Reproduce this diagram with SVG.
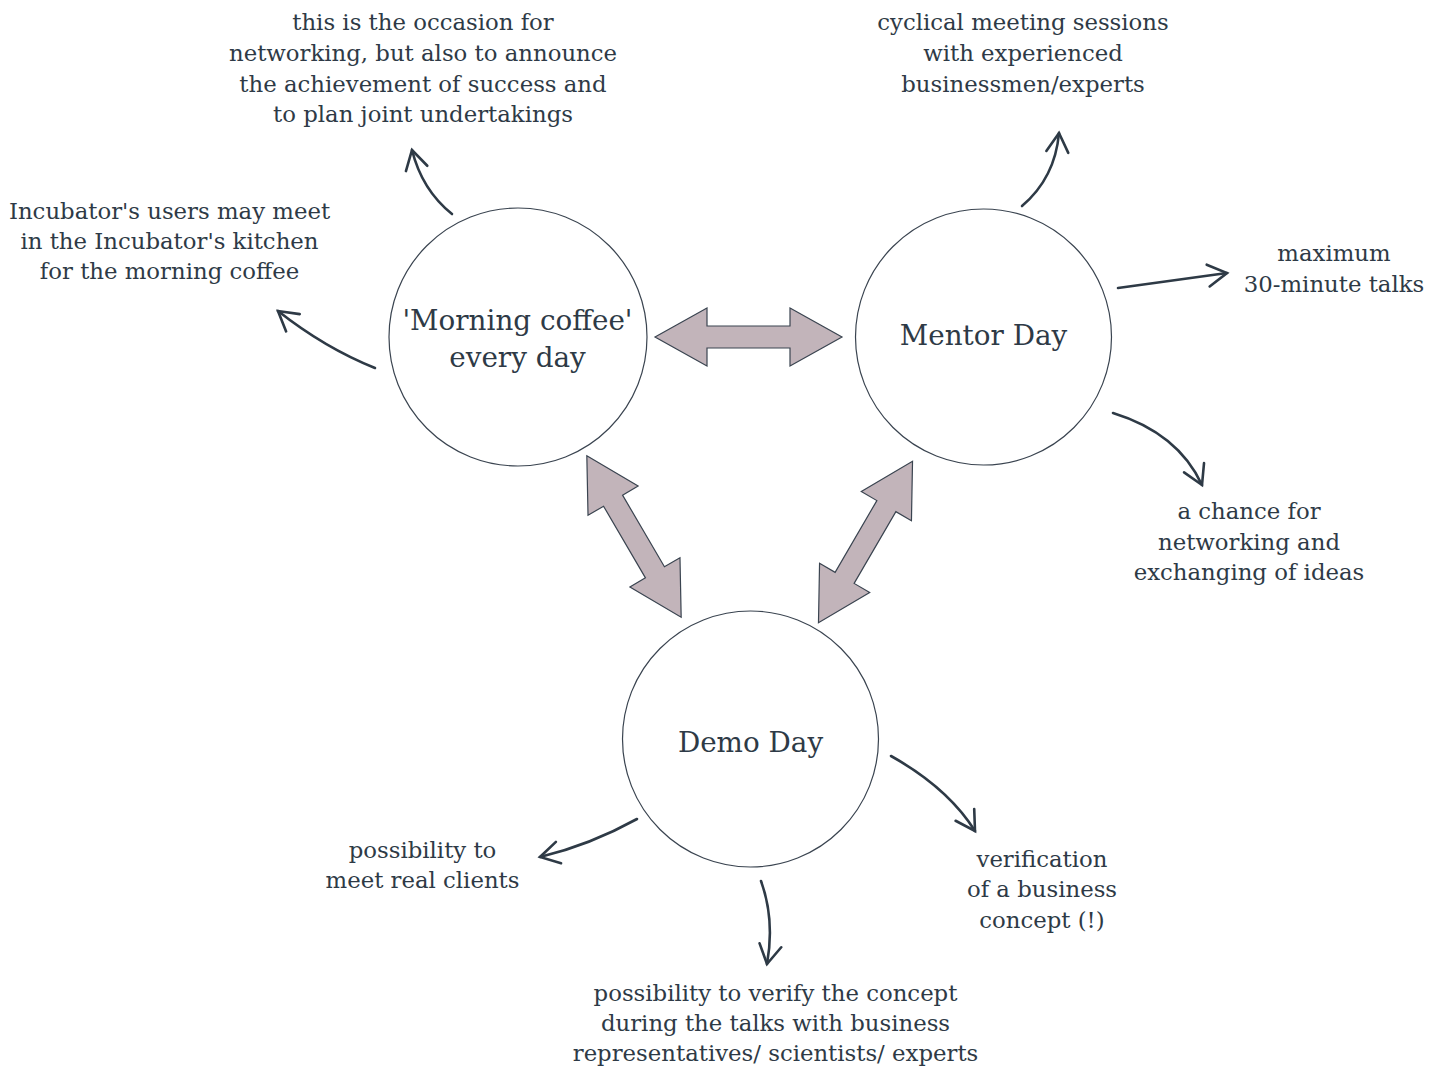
<svg xmlns="http://www.w3.org/2000/svg" width="1444" height="1066" viewBox="0 0 1444 1066">
<style>
.lbl{font-family:"DejaVu Serif","Liberation Serif",serif;font-size:22.8px;fill:#2e3a46;text-anchor:middle}
.nlbl{font-family:"DejaVu Serif","Liberation Serif",serif;font-size:27.8px;fill:#2e3a46;text-anchor:middle}
.node{fill:#fff;stroke:#3a4450;stroke-width:1.2}
.dbl{fill:#c2b4ba;stroke:#3a4450;stroke-width:1.2;stroke-linejoin:miter}
.conn{fill:none;stroke:#2e3a46;stroke-width:2.6;stroke-linecap:round}
</style>
<defs>
<marker id="ah" markerUnits="userSpaceOnUse" viewBox="-25 -15 30 30" markerWidth="30" markerHeight="30" refX="0" refY="0" orient="auto">
<path d="M-19,-11 L0,0 L-19,11" fill="none" stroke="#2e3a46" stroke-width="2.6" stroke-linecap="round" stroke-linejoin="miter"/>
</marker>
<polygon id="dblshape" points="-93.5,0 -41.5,-29 -41.5,-11 41.5,-11 41.5,-29 93.5,0 41.5,29 41.5,11 -41.5,11 -41.5,29"/>
</defs>
<rect width="1444" height="1066" fill="#fff"/>

<g id="connectors">
<use href="#dblshape" class="dbl" transform="translate(748.5,337)"/>
<use href="#dblshape" class="dbl" transform="translate(634,536.5) rotate(59.7)"/>
<use href="#dblshape" class="dbl" transform="translate(865.5,542) rotate(-59.8)"/>
<path class="conn" marker-end="url(#ah)" d="M452,214 Q422,190 412,150"/>
<path class="conn" marker-end="url(#ah)" d="M375,368 Q325,348 278,311"/>
<path class="conn" marker-end="url(#ah)" d="M1022,206 Q1055,178 1059,133"/>
<path class="conn" marker-end="url(#ah)" d="M1118,288 L1227,273"/>
<path class="conn" marker-end="url(#ah)" d="M1113,413 Q1178,433 1202,485"/>
<path class="conn" marker-end="url(#ah)" d="M891,756 Q948,788 975,831"/>
<path class="conn" marker-end="url(#ah)" d="M761,881 Q775,920 767,964"/>
<path class="conn" marker-end="url(#ah)" d="M637,819 Q590,845 540,857"/>
</g>

<g id="node-morning">
<circle class="node" cx="518" cy="337" r="129"/>
<text class="nlbl" x="517.5" y="330">'Morning coffee'</text>
<text class="nlbl" x="517.5" y="367">every day</text>
</g>
<g id="node-mentor">
<circle class="node" cx="983.5" cy="337" r="128"/>
<text class="nlbl" x="983.5" y="345">Mentor Day</text>
</g>
<g id="node-demo">
<circle class="node" cx="750.5" cy="739" r="128"/>
<text class="nlbl" x="750.5" y="752">Demo Day</text>
</g>

<g id="note-networking">
<text class="lbl" x="423" y="30">this is the occasion for</text>
<text class="lbl" x="423" y="61">networking, but also to announce</text>
<text class="lbl" x="423" y="92">the achievement of success and</text>
<text class="lbl" x="423" y="122">to plan joint undertakings</text>
</g>
<g id="note-kitchen">
<text class="lbl" x="169.5" y="219">Incubator's users may meet</text>
<text class="lbl" x="169.5" y="249">in the Incubator's kitchen</text>
<text class="lbl" x="169.5" y="279">for the morning coffee</text>
</g>
<g id="note-cyclical">
<text class="lbl" x="1023" y="30">cyclical meeting sessions</text>
<text class="lbl" x="1023" y="61">with experienced</text>
<text class="lbl" x="1023" y="92">businessmen/experts</text>
</g>
<g id="note-maximum">
<text class="lbl" x="1334" y="261">maximum</text>
<text class="lbl" x="1334" y="292">30-minute talks</text>
</g>
<g id="note-chance">
<text class="lbl" x="1249" y="519">a chance for</text>
<text class="lbl" x="1249" y="550">networking and</text>
<text class="lbl" x="1249" y="580">exchanging of ideas</text>
</g>
<g id="note-verification">
<text class="lbl" x="1042" y="867">verification</text>
<text class="lbl" x="1042" y="897">of a business</text>
<text class="lbl" x="1042" y="928">concept (!)</text>
</g>
<g id="note-clients">
<text class="lbl" x="422.5" y="858">possibility to</text>
<text class="lbl" x="422.5" y="888">meet real clients</text>
</g>
<g id="note-verify">
<text class="lbl" x="775.5" y="1001">possibility to verify the concept</text>
<text class="lbl" x="775.5" y="1031">during the talks with business</text>
<text class="lbl" x="775.5" y="1061">representatives/ scientists/ experts</text>
</g>
</svg>
